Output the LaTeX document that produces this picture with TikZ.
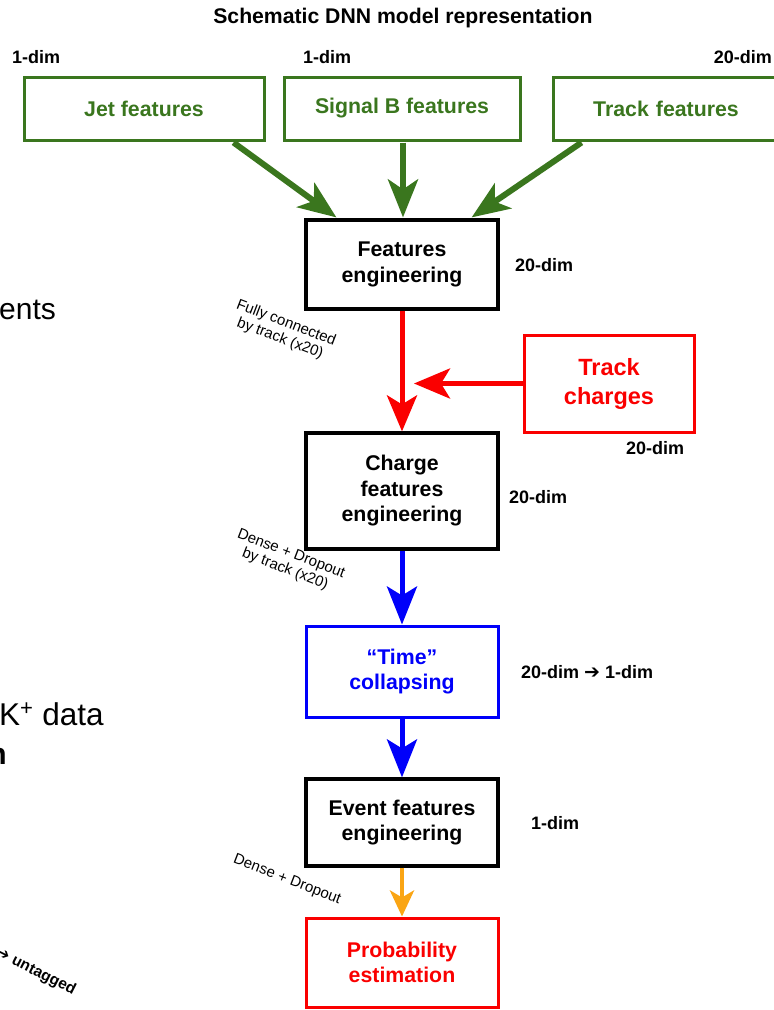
\documentclass[tikz,border=0pt]{standalone}
\usepackage{fontspec}
\setmainfont{Liberation Sans}
\newfontfamily\dejavu{DejaVu Sans}
\usetikzlibrary{arrows.meta,calc}
\definecolor{dgreen}{RGB}{58,118,30}
\definecolor{dred}{RGB}{250,0,0}
\definecolor{dblue}{RGB}{0,0,250}
\definecolor{dorange}{RGB}{250,165,20}
\begin{document}
\begin{tikzpicture}[x=1pt,y=-1pt,
  box/.style={draw, line width=3.2pt, inner sep=0pt, align=center,
    font=\bfseries\fontsize{21.3}{25.5}\selectfont},
  gbox/.style={box, draw=dgreen, text=dgreen, line width=3pt, minimum height=63pt},
  kbox/.style={box, draw=black, text=black, minimum width=192pt},
  dimlab/.style={inner sep=0pt, font=\bfseries\fontsize{18}{20}\selectfont},
  rotlab/.style={inner sep=0pt, align=center, rotate=-21, font=\fontsize{15}{16.5}\selectfont},
  garrow/.style={draw=dgreen, line width=6pt, -{Stealth[length=38pt,width=30pt,inset=10pt]}},
  rarrow/.style={draw=dred, line width=5pt, -{Stealth[length=36pt,width=30pt,inset=9pt]}},
  barrow/.style={draw=dblue, line width=5pt, -{Stealth[length=38pt,width=30pt,inset=9pt]}},
  oarrow/.style={draw=dorange, line width=4.5pt, -{Stealth[length=26pt,width=24pt,inset=7pt]}},
  frag/.style={inner sep=0pt, anchor=base west, font=\fontsize{30}{34}\selectfont}
]
\useasboundingbox (0,0) rectangle (774,1010);
\clip (0,0) rectangle (774,1010);

% title
\node[inner sep=0pt, font=\bfseries\fontsize{21.2}{22}\selectfont] (title) at (403,18) {Schematic DNN model representation};

% top input boxes
\node[gbox, minimum width=240pt] (jet) at (144,108.5) {Jet features};
\node[gbox, minimum width=236pt] (sigb) at (402,108.5) {Signal B features};
\node[gbox, minimum width=240pt, text width=240pt] (trk) at (673,108.5) {Track features\hspace*{14pt}};

\node[dimlab, anchor=west] (d1) at (12,57) {1-dim};
\node[dimlab, anchor=west] (d2) at (303,57) {1-dim};
\node[dimlab, anchor=east] (d3) at (772,57) {20-dim};

% main chain
\node[kbox, minimum height=89pt] (feat) at (402,264.5) {Features\\engineering};
\node[box, draw=dred, text=dred, minimum width=170pt, minimum height=97pt,
  line width=3pt, font=\bfseries\fontsize{23.5}{29}\selectfont] (tc) at (609,383.5) {Track\\charges};
\node[kbox, minimum height=116pt] (charge) at (402,491) {Charge\\features\\engineering};
\node[box, draw=dblue, text=dblue, minimum width=192pt, minimum height=91pt, line width=3pt] (time) at (402,671.5) {“Time”\\collapsing};
\node[kbox, minimum height=87pt] (event) at (402,822.5) {Event features\\engineering};
\node[box, draw=dred, text=dred, minimum width=192pt, minimum height=89pt, line width=3pt] (prob) at (402,962.5) {Probability\\estimation};

% dim labels
\node[dimlab, anchor=west] (df) at (515,265) {20-dim};
\node[dimlab, anchor=west] (dtc) at (626,448) {20-dim};
\node[dimlab, anchor=west] (dc) at (509,497) {20-dim};
\node[dimlab, anchor=west] (dt) at (521,672) {20-dim {\dejavu\bfseries\fontsize{19}{20}\selectfont ➔} 1-dim};
\node[dimlab, anchor=west] (de) at (531,823) {1-dim};

% rotated labels
\node[rotlab] (l1) at (283,331) {Fully connected\\by track (x20)};
\node[rotlab] (l2) at (288,562) {Dense + Dropout\\by track (x20)};
\node[rotlab] (l3) at (287,880) {Dense + Dropout};

% arrows
\draw[garrow] ($(jet.south west)+(211,1)$) -- ($(feat.north west)+(32,-1)$);
\draw[garrow] ($(sigb.south)+(1,1)$) -- ($(feat.north)+(1,-1)$);
\draw[garrow] ($(trk.south west)+(30,1)$) -- ($(feat.north east)+(-28,-1)$);
\draw[rarrow] (feat.south) -- (charge.north);
\coordinate (rj) at (414,383.5);
\draw[rarrow] (tc.west) -- (rj);
\draw[barrow] (charge.south) -- (time.north);
\draw[barrow] (time.south) -- (event.north);
\draw[oarrow] (event.south) -- (prob.north);

% fragments of neighbouring content at left
\node[frag] (f1) at (-1,319) {ents};
\node[frag, font=\fontsize{31.5}{34}\selectfont] (f2) at (-1,725) {K\textsuperscript{+} data};
\node[frag, anchor=base east, font=\bfseries\fontsize{30}{34}\selectfont] (f3) at (7,764) {n};
\node[inner sep=0pt, rotate=-27, anchor=west, font=\bfseries\fontsize{15.5}{16}\selectfont] (f4) at (-3,952) {{\dejavu ➔} untagged};
\end{tikzpicture}
\end{document}
